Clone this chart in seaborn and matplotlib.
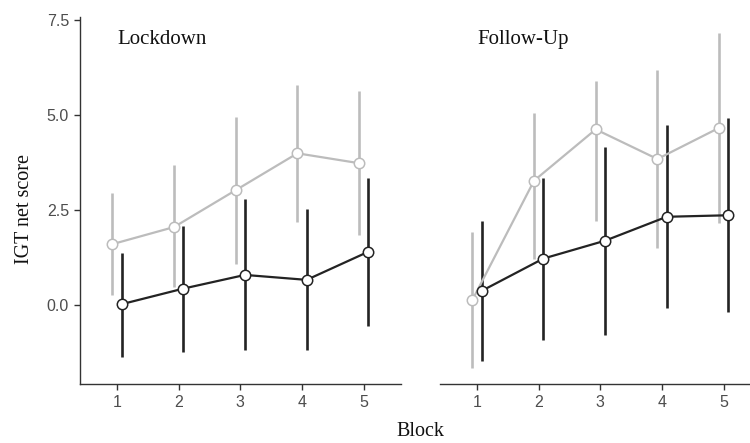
import numpy as np
import pandas as pd
import matplotlib
matplotlib.use("Agg")
import matplotlib.pyplot as plt
import seaborn as sns

blocks = [1, 2, 3, 4, 5]
panels = ["Lockdown", "Follow-Up"]

# Light grey series
grey_lock_mean = [1.61, 2.06, 3.03, 4.00, 3.74]
grey_lock_low = [0.28, 0.49, 1.10, 2.20, 1.84]
grey_lock_high = [2.95, 3.68, 4.96, 5.81, 5.63]
grey_fu_mean = [0.14, 3.28, 4.63, 3.85, 4.67]
grey_fu_low = [-1.66, 1.21, 2.22, 1.50, 2.17]
grey_fu_high = [1.92, 5.05, 5.91, 6.19, 7.16]

# Dark series
dark_lock_mean = [0.03, 0.44, 0.80, 0.67, 1.41]
dark_lock_low = [-1.35, -1.22, -1.18, -1.18, -0.54]
dark_lock_high = [1.39, 2.10, 2.80, 2.54, 3.35]
dark_fu_mean = [0.38, 1.23, 1.70, 2.33, 2.37]
dark_fu_low = [-1.47, -0.91, -0.78, -0.08, -0.18]
dark_fu_high = [2.23, 3.35, 4.17, 4.74, 4.94]

yticks = [0.0, 2.5, 5.0, 7.5]
ytick_labels = ["0.0", "2.5", "5.0", "7.5"]

rows = []
for panel, series in [
    ("Lockdown", [("grey", grey_lock_mean, grey_lock_low, grey_lock_high),
                  ("dark", dark_lock_mean, dark_lock_low, dark_lock_high)]),
    ("Follow-Up", [("grey", grey_fu_mean, grey_fu_low, grey_fu_high),
                   ("dark", dark_fu_mean, dark_fu_low, dark_fu_high)]),
]:
    for grp, m, lo, hi in series:
        for b, mm, l, h in zip(blocks, m, lo, hi):
            rows.append(dict(panel=panel, group=grp, block=b, mean=mm, low=l, high=h))
df = pd.DataFrame(rows)

sns.set_theme(style="ticks")
plt.rcParams["font.family"] = ["Liberation Serif", "DejaVu Serif"]

colors = {"grey": "#bcbcbc", "dark": "#232323"}
dodge = {"grey": -0.075, "dark": 0.075}
df["x"] = df["block"] + df["group"].map(dodge)

fig = plt.figure(figsize=(7.5, 4.43), dpi=100)
W, H = 750, 443
ax_w = 320.7 / W
bottom = 1 - 384 / H
ymin, ymax = -2.07, 7.6
top_px = 305.3 - ymax * 38
height = (384 - top_px) / H
ax1 = fig.add_axes([80 / W, bottom, ax_w, height])
ax2 = fig.add_axes([440 / W, bottom, ax_w, height])

tickcol = "#4d4d4d"
tickfs = 11.5
for ax, panel in zip([ax1, ax2], panels):
    sub = df[df.panel == panel]
    for grp in ["grey", "dark"]:
        s = sub[sub.group == grp]
        c = colors[grp]
        ax.vlines(s["x"], s["low"], s["high"], color=c, lw=1.9, zorder=2)
        sns.lineplot(data=s, x="x", y="mean", ax=ax, color=c, lw=1.6,
                     marker="o", markersize=7.5, markerfacecolor="white",
                     markeredgecolor=c, markeredgewidth=1.1, zorder=3,
                     errorbar=None, legend=False)
    ax.set_xlim(0.4, 5.6)
    ax.set_ylim(ymin, ymax)
    ax.set_xticks(blocks)
    ax.set_xticklabels([str(b) for b in blocks], family=["Liberation Sans"],
                       fontsize=tickfs, color=tickcol)
    ax.set_xlabel("")
    ax.set_ylabel("")
    ax.text(1.0, 7.0, panel, ha="left", va="center", fontsize=15, color="#111111")
    for sp in ["top", "right"]:
        ax.spines[sp].set_visible(False)
    ax.spines["bottom"].set_color("#333333")
    ax.spines["bottom"].set_linewidth(1.0)
    ax.tick_params(axis="x", length=4, width=1, color="#333333", pad=4)

ax1.set_yticks(yticks)
ax1.set_yticklabels(ytick_labels, family=["Liberation Sans"], fontsize=tickfs, color=tickcol)
ax1.spines["left"].set_color("#333333")
ax1.spines["left"].set_linewidth(1.0)
ax1.tick_params(axis="y", length=4, width=1, color="#333333", pad=4)

ax2.spines["left"].set_visible(False)
ax2.set_yticks([])

fig.text(25 / W, 1 - 209 / H, "IGT net score", rotation=90, ha="center", va="center",
         fontsize=14.5, color="#111111")
fig.text(420 / W, 1 - 432 / H, "Block", ha="center", va="center", fontsize=14.5,
         color="#111111")

fig.savefig("out.png", dpi=100)
